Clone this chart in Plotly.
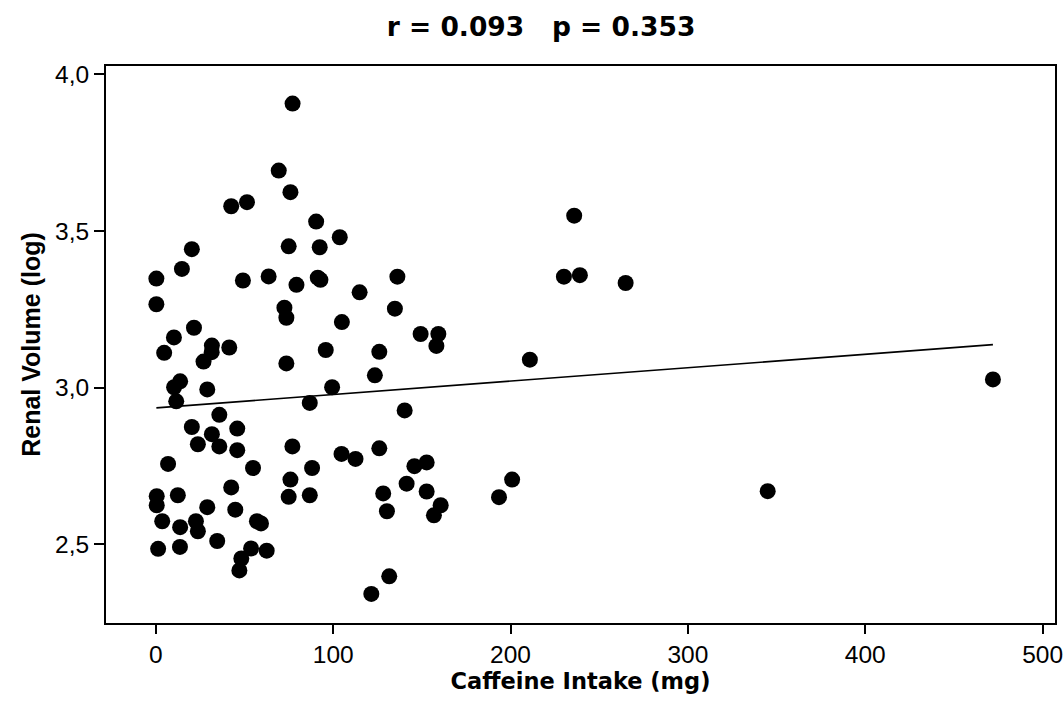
import plotly.graph_objects as go

caffeine_mg = [
    77.1, 69.3, 75.9, 42.5, 51.4, 90.4, 103.7, 74.9, 92.4, 20.3,
    14.7, 0.3, 49.1, 63.6, 79.3, 91.3, 92.8, 0.3, 72.5, 73.6,
    104.9, 21.5, 10.2, 95.8, 31.6, 31.5, 26.9, 41.4, 4.7, 73.6,
    13.7, 10.3, 11.5, 29.0, 99.4, 86.8, 35.8, 20.3, 45.9, 31.6,
    23.7, 35.8, 45.9, 77.0, 104.7, 6.9, 54.8, 88.1, 75.9, 42.5,
    0.5, 0.5, 12.4, 74.9, 86.8, 29.0, 44.8, 3.6, 13.7, 22.6,
    23.7, 57.0, 59.3, 34.6, 1.3, 13.6, 53.7, 62.5, 48.2, 47.1,
    136.2, 114.9, 134.8, 149.3, 159.3, 158.2, 126.0, 123.5, 140.3, 112.6,
    126.0, 145.8, 152.7, 141.4, 152.7, 128.2, 160.6, 156.8, 130.3, 193.5,
    131.6, 121.5, 235.9, 230.1, 239.1, 264.9, 210.9, 200.9, 345.0, 472.0,
]
renal_volume_log = [
    3.907, 3.693, 3.624, 3.579, 3.592, 3.530, 3.480, 3.451, 3.448, 3.442,
    3.379, 3.348, 3.342, 3.355, 3.328, 3.351, 3.344, 3.266, 3.255, 3.223,
    3.209, 3.191, 3.160, 3.120, 3.134, 3.113, 3.083, 3.128, 3.111, 3.077,
    3.020, 3.001, 2.956, 2.994, 3.001, 2.951, 2.913, 2.874, 2.869, 2.851,
    2.819, 2.812, 2.800, 2.812, 2.788, 2.756, 2.743, 2.743, 2.706, 2.681,
    2.653, 2.624, 2.656, 2.651, 2.656, 2.618, 2.610, 2.573, 2.554, 2.573,
    2.541, 2.573, 2.566, 2.510, 2.485, 2.491, 2.486, 2.479, 2.454, 2.416,
    3.354, 3.304, 3.252, 3.171, 3.171, 3.133, 3.114, 3.039, 2.927, 2.772,
    2.806, 2.749, 2.761, 2.693, 2.668, 2.662, 2.624, 2.592, 2.605, 2.650,
    2.397, 2.341, 3.549, 3.354, 3.359, 3.334, 3.089, 2.706, 2.669, 3.026,
]

fit_intercept = 2.935
fit_slope = 0.000428

x_tick_vals = [0, 100, 200, 300, 400, 500]
x_tick_text = ["0", "100", "200", "300", "400", "500"]
y_tick_vals = [2.5, 3.0, 3.5, 4.0]
y_tick_text = ["2,5", "3,0", "3,5", "4,0"]

title_text = "r = 0.093   p = 0.353"
x_title = "Caffeine Intake (mg)"
y_title = "Renal Volume (log)"

fit_x = [min(caffeine_mg), max(caffeine_mg)]
fit_y = [fit_intercept + fit_slope * v for v in fit_x]

fig = go.Figure()
fig.add_trace(go.Scatter(
    x=caffeine_mg, y=renal_volume_log, mode="markers",
    marker=dict(color="black", size=16, line=dict(width=0)),
    showlegend=False, hoverinfo="x+y",
))
fig.add_trace(go.Scatter(
    x=fit_x, y=fit_y, mode="lines",
    line=dict(color="black", width=1.6),
    showlegend=False, hoverinfo="skip",
))

verdana_like = "DejaVu Sans, Verdana, sans-serif"
tick_font = "Liberation Sans, Arial, sans-serif"
arial_like = "Liberation Sans, Arial, sans-serif"

fig.update_layout(
    width=1064, height=702,
    margin=dict(l=106, r=9, t=66, b=79, autoexpand=False),
    paper_bgcolor="white", plot_bgcolor="white",
    font=dict(family=tick_font, color="black", size=24),
    title=dict(
        text="<b>" + title_text + "</b>",
        x=0.5085, xanchor="center", y=0.9615, yanchor="middle",
        xref="container", yref="container",
        font=dict(size=26.5, family=verdana_like, color="black"),
    ),
)
fig.update_xaxes(
    range=[-28.1, 507], automargin=False,
    tickvals=x_tick_vals, ticktext=x_tick_text,
    ticks="outside", ticklen=9, tickwidth=2, tickcolor="black",
    showline=True, linecolor="black", linewidth=2, mirror=True,
    showgrid=False, zeroline=False,
    tickfont=dict(size=24.5, family=tick_font),
    title=dict(text="<b>" + x_title + "</b>",
               font=dict(size=22.5, family=verdana_like), standoff=6),
)
fig.update_yaxes(
    range=[2.248, 4.027], automargin=False,
    tickvals=y_tick_vals, ticktext=y_tick_text,
    ticks="outside", ticklen=10, tickwidth=2, tickcolor="black",
    showline=True, linecolor="black", linewidth=2, mirror=True,
    showgrid=False, zeroline=False,
    tickfont=dict(size=24.5, family=tick_font),
    title=dict(text="<b>" + y_title + "</b>",
               font=dict(size=25, family=arial_like), standoff=7),
)

fig.write_html(
    "out.html",
    config={"displayModeBar": False},
    post_script="document.body.style.margin='0';document.body.style.overflow='hidden';",
)
